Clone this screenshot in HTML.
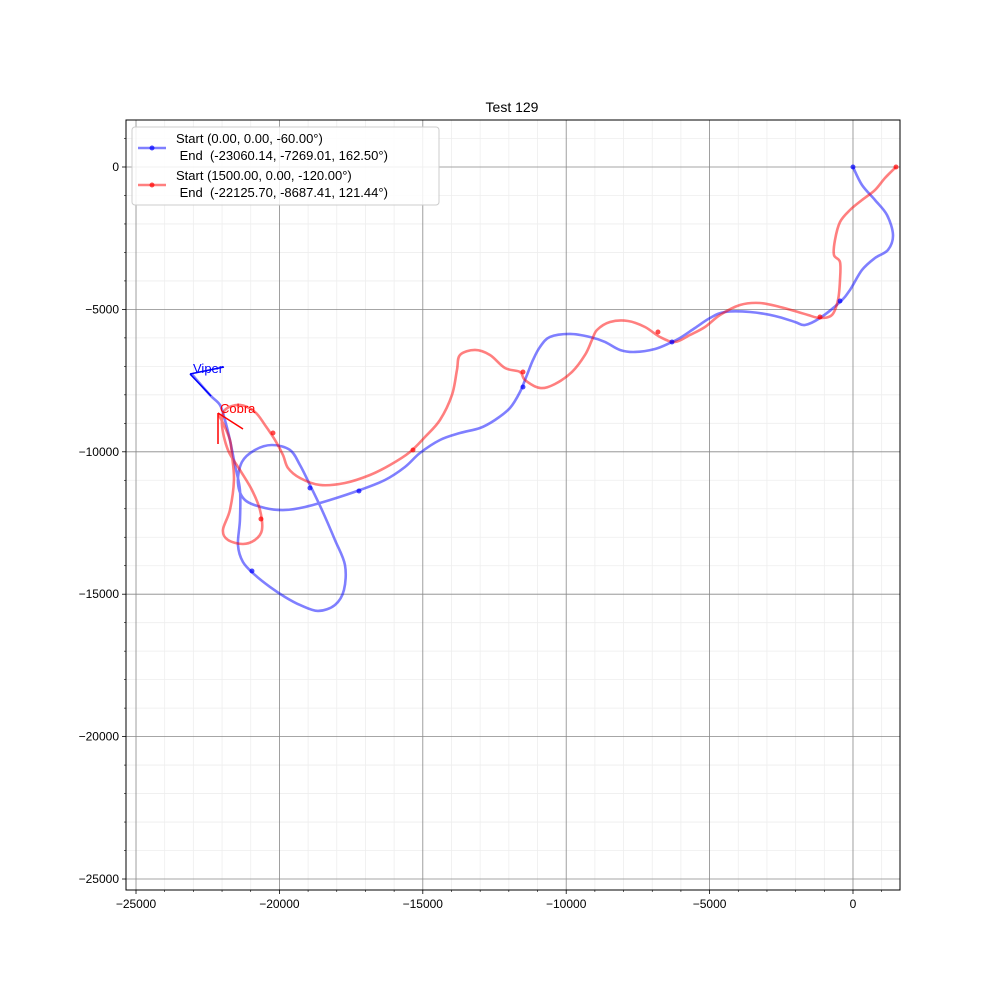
<!DOCTYPE html>
<html><head><meta charset="utf-8"><style>
body{margin:0;background:#fff;}
svg text{font-family:"Liberation Sans","DejaVu Sans",sans-serif;}
</style></head><body>
<svg id="chart" width="1000" height="1000" xmlns="http://www.w3.org/2000/svg"></svg>
<script>
const blueX=[0,314,767,1186,1395,1220,767,314,-105,-453,-1151,-1674,-2022,-2720,-3592,-4463,-4986,-5510,-6033,-6381,-6904,-7602,-8125,-8648,-9171,-9868,-10566,-10915,-11158,-11368,-11612,-11960,-12483,-13006,-13704,-14401,-15099,-15622,-16319,-17191,-18237,-19109,-19806,-20504,-21201,-21445,-21306,-20853,-20259,-19632,-19283,-18934,-18516,-18063,-17714,-17749,-18063,-18655,-19283,-19806,-20329,-20853,-21271,-21445,-21376,-21376,-21550,-21725,-21899,-22073,-22422,-23060];
const blueY=[0,-632,-1159,-1685,-2387,-2914,-3195,-3616,-4318,-4740,-5302,-5547,-5442,-5231,-5091,-5091,-5302,-5653,-6004,-6179,-6390,-6495,-6425,-6144,-5969,-5863,-5969,-6320,-6776,-7303,-7900,-8462,-8883,-9164,-9340,-9585,-10042,-10533,-10990,-11341,-11692,-11937,-12043,-11972,-11692,-11095,-10357,-9936,-9761,-9936,-10463,-11165,-12043,-13096,-13974,-14852,-15378,-15589,-15378,-15097,-14746,-14325,-13869,-13272,-12394,-11341,-10463,-9585,-8883,-8356,-8005,-7269];
const redX=[1500,1116,767,314,-105,-453,-628,-663,-453,-453,-523,-732,-1151,-1569,-1918,-2546,-3243,-3940,-4638,-5161,-5684,-6207,-6730,-7253,-7846,-8473,-8927,-9101,-9345,-9798,-10391,-10915,-11438,-11612,-12135,-12658,-13181,-13704,-13809,-13983,-14401,-14924,-15447,-16144,-16842,-17714,-18586,-19283,-19701,-19876,-20155,-20504,-20853,-21376,-21899,-22003,-21794,-21376,-20958,-20678,-20609,-20853,-21271,-21794,-21969,-21725,-21585,-21655,-21725,-21934,-22126];
const redY=[0,-386,-808,-1159,-1510,-1931,-2563,-3090,-3336,-3967,-4669,-5196,-5302,-5196,-5091,-4915,-4775,-4845,-5196,-5618,-5898,-6144,-5969,-5618,-5407,-5442,-5723,-6074,-6601,-7198,-7619,-7759,-7478,-7198,-7057,-6601,-6425,-6601,-7127,-8005,-8883,-9480,-10006,-10463,-10814,-11095,-11165,-10919,-10568,-10112,-9585,-9058,-8602,-8356,-8532,-9058,-9936,-10638,-11341,-12043,-12745,-13096,-13237,-13096,-12745,-12043,-10990,-10112,-9585,-9058,-8687];
const blueMarkX=[0,-453,-6312,-11507,-17226,-18934,-20957];
const blueMarkY=[0,-4705,-6144,-7724,-11376,-11271,-14184];
const redMarkX=[1500,-1151,-6800,-11507,-15343,-20225,-20643];
const redMarkY=[0,-5266,-5793,-7198,-9936,-9339,-12358];
const ticks=[-25000,-20000,-15000,-10000,-5000,0];
const tickLabels=["\u221225000","\u221220000","\u221215000","\u221210000","\u22125000","0"];
const xMin=-25349,xMax=1639,yMin=-25386,yMax=1650;
const L=126,R=900,T=120,B=890;
const sx=v=>L+(v-xMin)/(xMax-xMin)*(R-L);
const sy=v=>T+(yMax-v)/(yMax-yMin)*(B-T);
const svg=document.getElementById('chart');
const NS='http://www.w3.org/2000/svg';
function mk(tag,attrs,parent){const e=document.createElementNS(NS,tag);for(const k in attrs)e.setAttribute(k,attrs[k]);(parent||svg).appendChild(e);return e;}
// minor grid
for(let v=-25000;v<=1000;v+=1000){
 if(v%5000===0)continue;
 const gx=mk('line',{x1:sx(v),x2:sx(v),y1:T,y2:B,stroke:'#eee','stroke-width':0.8});
 
 
 const gy=mk('line',{x1:L,x2:R,y1:sy(v),y2:sy(v),stroke:'#eee','stroke-width':0.8});
 
 
 const tx=mk('line',{x1:sx(v),x2:sx(v),y1:B,y2:B+2,stroke:'#000','stroke-width':0.6});
 
 
 const ty=mk('line',{x1:L-2,x2:L,y1:sy(v),y2:sy(v),stroke:'#000','stroke-width':0.6});
 
 
}
ticks.forEach((v,i)=>{
 const gx=mk('line',{x1:sx(v),x2:sx(v),y1:T,y2:B,stroke:'#888','stroke-width':0.8});
 
 
 const gy=mk('line',{x1:L,x2:R,y1:sy(v),y2:sy(v),stroke:'#888','stroke-width':0.8});
 
 
 mk('line',{x1:sx(v),x2:sx(v),y1:B,y2:B+4,stroke:'#000','stroke-width':0.8});
 mk('line',{x1:L-4,x2:L,y1:sy(v),y2:sy(v),stroke:'#000','stroke-width':0.8});
 const xl=mk('text',{x:sx(v),y:B+18,'text-anchor':'middle','font-size':12});
 xl.textContent=tickLabels[i];
 
 
 const yl=mk('text',{x:L-7,y:sy(v)+4,'text-anchor':'end','font-size':12});
 yl.textContent=tickLabels[i];
 
 
});
function smooth(xs,ys){
 const p=xs.map((x,i)=>[sx(x),sy(ys[i])]);
 let d='M'+p[0][0]+','+p[0][1];
 for(let i=0;i<p.length-1;i++){
  const p0=p[Math.max(0,i-1)],p1=p[i],p2=p[i+1],p3=p[Math.min(p.length-1,i+2)];
  const c1=[p1[0]+(p2[0]-p0[0])/6,p1[1]+(p2[1]-p0[1])/6];
  const c2=[p2[0]-(p3[0]-p1[0])/6,p2[1]-(p3[1]-p1[1])/6];
  d+=` C${c1[0]},${c1[1]} ${c2[0]},${c2[1]} ${p2[0]},${p2[1]}`;
 }
 return d;
}
const bl=mk('path',{d:smooth(blueX,blueY),fill:'none',stroke:'rgba(0,0,255,0.5)','stroke-width':2.6});


const rl=mk('path',{d:smooth(redX,redY),fill:'none',stroke:'rgba(255,0,0,0.5)','stroke-width':2.6});


blueMarkX.forEach((x,i)=>{
 const c=mk('circle',{cx:sx(x),cy:sy(blueMarkY[i]),r:2.5,fill:'rgba(0,0,255,0.7)'});
 
 
});
redMarkX.forEach((x,i)=>{
 const c=mk('circle',{cx:sx(x),cy:sy(redMarkY[i]),r:2.5,fill:'rgba(255,0,0,0.7)'});
 
 
});
const frame=mk('rect',{x:L,y:T,width:R-L,height:B-T,fill:'none',stroke:'#000','stroke-width':1});


</script>
<svg style="position:absolute;left:0;top:0" width="1000" height="1000">
<text x="512" y="112" text-anchor="middle" font-size="14">Test 129</text>
<g stroke="#00f" stroke-width="1.5" fill="none"><line x1="190" y1="374" x2="211" y2="396"/><line x1="190" y1="374" x2="224" y2="367"/></g>
<text x="193" y="373" font-size="13" fill="#00f">Viper</text>
<g stroke="#f00" stroke-width="1.5" fill="none"><line x1="218" y1="413" x2="218" y2="444"/><line x1="218" y1="413" x2="243" y2="429"/></g>
<text x="220" y="413" font-size="13" fill="#f00">Cobra</text>
<g>
<rect x="132" y="127" width="307" height="78" rx="3" fill="#fff" fill-opacity="0.85" stroke="#ccc"/>
<line x1="138" y1="148" x2="166" y2="148" stroke="rgba(0,0,255,0.5)" stroke-width="2.6"/><circle cx="152" cy="148" r="2.5" fill="rgba(0,0,255,0.7)"/>
<text x="176" y="143" font-size="13">Start (0.00, 0.00, -60.00°)</text>
<text x="176" y="160" font-size="13" xml:space="preserve"> End  (-23060.14, -7269.01, 162.50°)</text>
<line x1="138" y1="185" x2="166" y2="185" stroke="rgba(255,0,0,0.5)" stroke-width="2.6"/><circle cx="152" cy="185" r="2.5" fill="rgba(255,0,0,0.7)"/>
<text x="176" y="180" font-size="13">Start (1500.00, 0.00, -120.00°)</text>
<text x="176" y="197" font-size="13" xml:space="preserve"> End  (-22125.70, -8687.41, 121.44°)</text>
</g>
</svg>
</body></html>
